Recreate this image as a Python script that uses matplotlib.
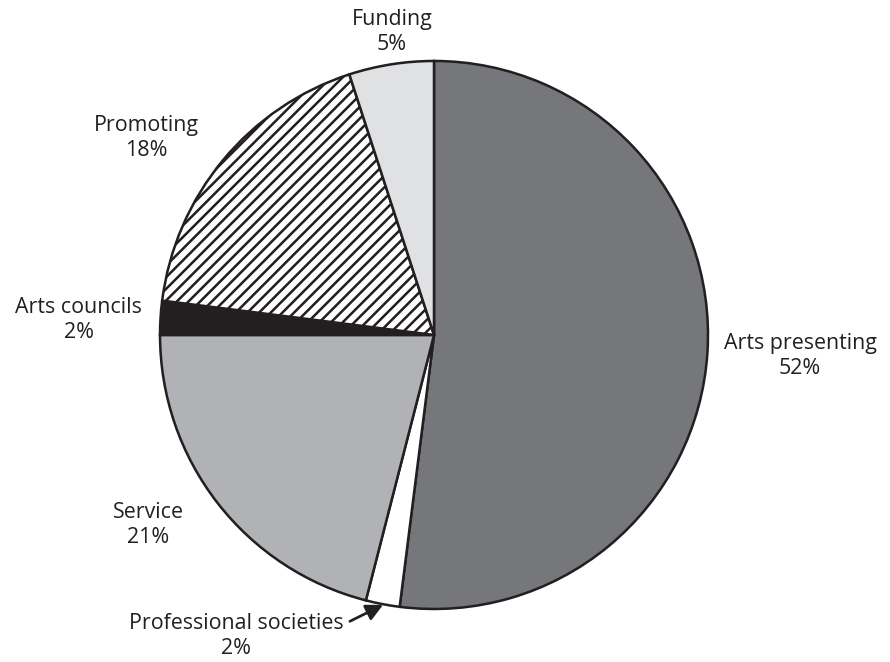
import matplotlib
matplotlib.use("Agg")
import matplotlib.pyplot as plt

plt.rcParams['font.family'] = ['Open Sans', 'DejaVu Sans']
plt.rcParams['hatch.linewidth'] = 1.3
plt.rcParams['hatch.color'] = '#231f20'

# Share of organisations by primary activity
categories = ["Arts presenting", "Professional societies", "Service",
              "Arts councils", "Promoting", "Funding"]
shares = [52, 2, 21, 2, 18, 5]

fills = ["#76777b", "#ffffff", "#b1b2b5", "#231f20", "#ffffff", "#e0e1e3"]
hatches = [None, None, None, None, "////", None]
# label centres in axis units (pie radius = 1)
label_xy = [(1.336, -0.077), (-0.722, -1.098), (-1.044, -0.693),
            (-1.296, 0.055), (-1.051, 0.719), (-0.153, 1.106)]

DPI = 140
fig = plt.figure(figsize=(890 / DPI, 662 / DPI), dpi=DPI)
ax = fig.add_axes([0.1798, 0.0801, 0.6157, 0.8278])

wedges, _ = ax.pie(shares, startangle=90, counterclock=False, colors=fills,
                   radius=1.0, center=(0, 0), frame=False,
                   wedgeprops=dict(edgecolor='#231f20', linewidth=1.3))
ax.set_xlim(-1, 1)
ax.set_ylim(-1, 1)
ax.set_aspect('auto')
ax.axis('off')
for w, h in zip(wedges, hatches):
    if h:
        w.set_hatch(h)

for name, val, (x, y) in zip(categories, shares, label_xy):
    ax.text(x, y, f"{name}\n{val}%", ha='center', va='center',
            fontsize=11, fontweight='medium', color='#231f20',
            linespacing=1.25, clip_on=False)

# pointer for the thin professional societies slice
ax.annotate("", xy=(-0.186, -0.985), xytext=(-0.307, -1.045),
            arrowprops=dict(arrowstyle='-|>', color='#231f20', lw=1.4,
                            mutation_scale=18, shrinkA=0, shrinkB=0),
            annotation_clip=False)

fig.savefig("out.png", dpi=DPI, facecolor='white')
